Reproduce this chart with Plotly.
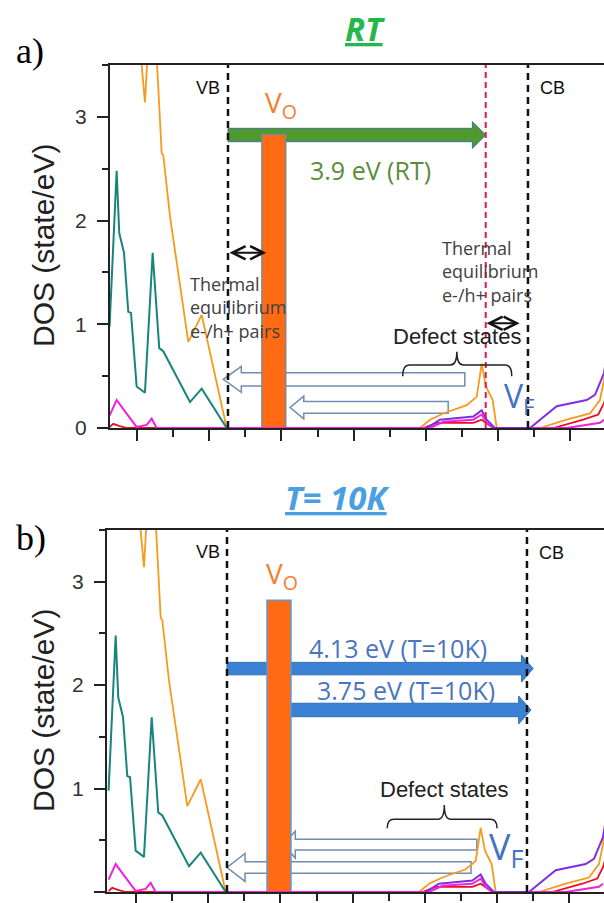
import plotly.graph_objects as go

# ---------------- DATA (energy relative to VB edge, DOS in state/eV) ----------------
teal_E = [-1.64, -1.542, -1.506, -1.440, -1.381, -1.343, -1.265, -1.150, -1.043, -0.952, -0.896, -0.526, -0.364, -0.018]
teal_D = [0.98, 2.48, 1.88, 1.69, 1.12, 1.11, 0.40, 0.34, 1.69, 0.77, 0.74, 0.25, 0.38, 0.0]

orange_E = [-1.64, -1.26, -1.15, -1.08, -1.004, -0.918, -0.896, -0.803, -0.550, -0.364, -0.018,
            2.659, 2.798, 2.982, 3.306, 3.445, 3.514, 3.573, 3.666, 3.722,
            4.321, 4.691, 5.014, 5.152, 5.208, 5.36]
orange_D = [4.5, 4.0, 3.14, 4.0, 3.8, 2.65, 2.63, 2.04, 0.83, 1.09, 0.0,
            0.0, 0.08, 0.14, 0.22, 0.30, 0.62, 0.40, 0.27, 0.0,
            0.0, 0.08, 0.14, 0.27, 0.46, 1.3]

magenta_E = [-1.64, -1.542, -1.427, -1.265, -1.126, -1.057, -0.988,
             2.798, 2.982, 3.398, 3.514, 3.583, 3.675, 4.691, 5.152, 5.208]
magenta_D = [0.12, 0.27, 0.16, 0.01, 0.03, 0.09, 0.0,
             0.0, 0.06, 0.08, 0.13, 0.05, 0.0, 0.0, 0.05, 0.08]

purple_E = [2.752, 2.936, 3.398, 3.514, 3.583, 3.698, 4.183, 4.553, 4.968, 5.083, 5.208, 5.36]
purple_D = [0.0, 0.08, 0.11, 0.17, 0.08, 0.0, 0.0, 0.21, 0.27, 0.32, 0.53, 1.2]

red_E = [-1.64, -1.59, -1.51, -1.40, 2.705, 2.890, 3.398, 3.514, 3.675, 4.506, 4.921, 5.129, 5.208, 5.36]
red_D = [0.01, 0.04, 0.02, 0.0, 0.0, 0.05, 0.05, 0.08, 0.0, 0.0, 0.08, 0.13, 0.24, 0.6]

# band edges / levels per panel (a = RT, b = 10 K)
vb_level = [0.0, 0.0]
cb_level = [4.155, 4.155]
fermi_rt = 3.57
vo_x0 = [0.47, 0.554]
vo_x1 = [0.80, 0.886]
vo_top = [2.83, 2.82]

# transition arrows: (tail, tip, level)
green_arrow = (0.0, 3.57, 2.825)
blue_arrows = [(0.0, 4.24, 2.16), (0.886, 4.21, 1.76)]
white_arrows_a = [(3.28, -0.065, 0.469), (3.05, 0.86, 0.198)]
white_arrows_b = [(3.46, 0.776, 0.458), (3.38, 0.0, 0.237)]

# ---------------- helpers ----------------
def block_arrow(tail, tip, yc, body, head, hl):
    d = 1 if tip > tail else -1
    xb = tip - d * hl
    return (f"M{tail},{yc-body/2} L{xb},{yc-body/2} L{xb},{yc-head/2} L{tip},{yc} "
            f"L{xb},{yc+head/2} L{xb},{yc+body/2} L{tail},{yc+body/2} Z")

def brace(x0, xm, x1, yl, yt, ye, r=0.09):
    return (f"M{x0},{ye} Q{x0},{yl} {x0+r},{yl} L{xm-r},{yl} Q{xm},{yl} {xm},{yt} "
            f"Q{xm},{yl} {xm+r},{yl} L{x1-r},{yl} Q{x1},{yl} {x1},{ye}")

fig = go.Figure()
ARIAL = "Liberation Sans, Arial"
OPEN = "Open Sans"

curves = [
    (orange_E, orange_D, "#F89A1C", 1.8),
    (red_E, red_D, "#E8101E", 1.8),
    (magenta_E, magenta_D, "#F020E0", 2.0),
    (purple_E, purple_D, "#7F30E0", 2.0),
    (teal_E, teal_D, "#17857B", 2.0),
]
for xa, ya in [("x", "y"), ("x2", "y2")]:
    for E, D, c, w in curves:
        fig.add_trace(go.Scatter(x=E, y=D, mode="lines", line=dict(color=c, width=w),
                                 xaxis=xa, yaxis=ya, hoverinfo="skip"))

bar_line = ["#7A8A99", "#5B9BD5"]
for i, (xa, ya) in enumerate([("x", "y"), ("x2", "y2")]):
    fig.add_trace(go.Bar(x=[(vo_x0[i] + vo_x1[i]) / 2], y=[vo_top[i]], width=[vo_x1[i] - vo_x0[i]],
                         marker=dict(color="#FF6A13", line=dict(color=bar_line[i], width=1.5)),
                         xaxis=xa, yaxis=ya, hoverinfo="skip"))

shapes = []
# block arrows (below traces)
shapes.append(dict(type="path", xref="x", yref="y", layer="below",
                   path=block_arrow(green_arrow[0], green_arrow[1], green_arrow[2], 0.129, 0.257, 0.185),
                   fillcolor="#4F9A30", line=dict(color="#41719C", width=1)))
for (t, p, y), (bd, hd, hl) in zip(white_arrows_a, [(0.128, 0.25, 0.25), (0.113, 0.22, 0.19)]):
    shapes.append(dict(type="path", xref="x", yref="y", layer="below",
                       path=block_arrow(t, p, y, bd, hd, hl),
                       fillcolor="white", line=dict(color="#6F8DB0", width=1.5)))
for (t, p, y), (bd, hd, hl) in zip(blue_arrows, [(0.12, 0.26, 0.16), (0.13, 0.27, 0.17)]):
    shapes.append(dict(type="path", xref="x2", yref="y2", layer="below",
                       path=block_arrow(t, p, y, bd, hd, hl),
                       fillcolor="#3B82D4", line=dict(color="#2E6DB4", width=1)))
for (t, p, y), (bd, hd, hl) in zip(white_arrows_b, [(0.104, 0.26, 0.17), (0.113, 0.27, 0.25)]):
    shapes.append(dict(type="path", xref="x2", yref="y2", layer="below",
                       path=block_arrow(t, p, y, bd, hd, hl),
                       fillcolor="white", line=dict(color="#6F8DB0", width=1.5)))

# band edge dashed lines
for i, (xa, ya) in enumerate([("x", "y"), ("x2", "y2")]):
    for xv in (vb_level[i], cb_level[i]):
        shapes.append(dict(type="line", xref=xa, yref=ya + " domain", x0=xv, x1=xv, y0=0, y1=1,
                           layer="above", line=dict(color="#111", width=2.5, dash="7px,5px")))
shapes.append(dict(type="line", xref="x", yref="y domain", x0=fermi_rt, x1=fermi_rt, y0=0, y1=1,
                   layer="above", line=dict(color="#E8174B", width=2, dash="6px,4px")))

# braces
shapes.append(dict(type="path", xref="x", yref="y", layer="above",
                   path=brace(2.42, 3.17, 3.93, 0.608, 0.736, 0.50), line=dict(color="#222", width=1.5)))
shapes.append(dict(type="path", xref="x2", yref="y2", layer="above",
                   path=brace(2.22, 3.01, 3.74, 0.704, 0.842, 0.617), line=dict(color="#222", width=1.5)))

ann = []
def txt(x, y, s, size, color, xr="x", yr="y", family=OPEN, xanchor="center", align="center", **kw):
    ann.append(dict(x=x, y=y, xref=xr, yref=yr, text=s, showarrow=False, xanchor=xanchor,
                    yanchor="middle", align=align,
                    font=dict(size=size, color=color, family=family), **kw))

# panel labels and titles
txt(30 / 604, 1 - 51 / 903, "a)", 36, "#000", "paper", "paper", family="Liberation Serif, Times New Roman")
txt(31 / 604, 1 - 538 / 903, "b)", 36, "#000", "paper", "paper", family="Liberation Serif, Times New Roman")
txt(365 / 604, 1 - 28 / 903, "<b><i><u>RT</u></i></b>", 33, "#22B84A", "paper", "paper")
txt(337 / 604, 1 - 497 / 903, "<b><i><u>T= 10K</u></i></b>", 33, "#4A9FE0", "paper", "paper")
txt(43 / 604, 1 - 246 / 903, "DOS (state/eV)", 30, "#222", "paper", "paper", family=ARIAL, textangle=-90)
txt(43 / 604, 1 - 711 / 903, "DOS (state/eV)", 30, "#222", "paper", "paper", family=ARIAL, textangle=-90)

# panel a
txt(-0.277, 3.279, "VB", 18, "#111", family=ARIAL)
txt(4.494, 3.279, "CB", 18, "#111", family=ARIAL)
txt(0.741, 3.124, "V<sub>O</sub>", 28, "#F2802E")
txt(1.967, 2.488, "3.9 eV (RT)", 25, "#5B8C3A")
txt(-0.554, 1.157, "Thermal<br>equilibrium<br>e-/h+ pairs", 18, "#404040", xanchor="left", align="left")
txt(2.94, 1.51, "Thermal<br>equilibrium<br>e-/h+ pairs", 18, "#404040", xanchor="left", align="left")
txt(3.172, 0.878, "Defect states", 22, "#222", family=ARIAL)
txt(4.044, 0.29, "V<sub>F</sub>", 32, "#4472C4")

# panel b
txt(-0.27, 3.291, "VB", 18, "#111", "x2", "y2", family=ARIAL)
txt(4.50, 3.28, "CB", 18, "#111", "x2", "y2", family=ARIAL)
txt(0.755, 3.069, "V<sub>O</sub>", 28, "#F2802E", "x2", "y2")
txt(2.368, 2.362, "4.13 eV (T=10K)", 25, "#4A74C0", "x2", "y2")
txt(2.479, 1.955, "3.75 eV (T=10K)", 25, "#4A74C0", "x2", "y2")
txt(3.006, 0.987, "Defect states", 22, "#222", "x2", "y2", family=ARIAL)
txt(3.864, 0.416, "V<sub>F</sub>", 36, "#4472C4", "x2", "y2")

# thermal double arrows
for (x0, x1, y) in [(0.0, 0.53, 1.69), (3.56, 4.04, 1.01)]:
    ann.append(dict(x=x1, y=y, ax=x0, ay=y, xref="x", yref="y", axref="x", ayref="y", text="",
                    showarrow=True, arrowhead=5, startarrowhead=5, arrowside="end+start",
                    arrowsize=1.3, startarrowsize=1.3, arrowwidth=2, arrowcolor="#111",
                    standoff=0, startstandoff=0))

xcommon = dict(showline=True, linecolor="#222", linewidth=2, mirror=True, ticks="outside",
               ticklen=11, tickwidth=2, tickcolor="#222", tick0=-0.26, dtick=1,
               showticklabels=False, showgrid=False, zeroline=False, automargin=False,
               minor=dict(ticks="outside", ticklen=7, tickwidth=2, tickcolor="#222", tick0=-0.26, dtick=0.5))
ycommon = dict(range=[0, 3.5], showline=True, linecolor="#222", linewidth=2, ticks="outside",
               ticklen=11, tickwidth=2, tickcolor="#222", tick0=0, dtick=1, showgrid=False,
               zeroline=False, automargin=False, tickfont=dict(size=21, color="#333", family=ARIAL),
               ticklabelstandoff=6,
               minor=dict(ticks="outside", ticklen=6, tickwidth=2, tickcolor="#222", dtick=0.5))

fig.update_layout(
    width=604, height=903, margin=dict(l=0, r=0, t=0, b=0, pad=0, autoexpand=False),
    paper_bgcolor="white", plot_bgcolor="white", showlegend=False,
    xaxis=dict(domain=[110 / 604, 1], range=[-1.634, 5.208], anchor="y", **xcommon),
    yaxis=dict(domain=[1 - 428 / 903, 1 - 65 / 903], anchor="x", **ycommon),
    xaxis2=dict(domain=[107 / 604, 1], range=[-1.662, 5.222], anchor="y2", **xcommon),
    yaxis2=dict(domain=[1 - 892 / 903, 1 - 530 / 903], anchor="x2", **ycommon),
    shapes=shapes, annotations=ann,
)

fig.write_html("out.html")
